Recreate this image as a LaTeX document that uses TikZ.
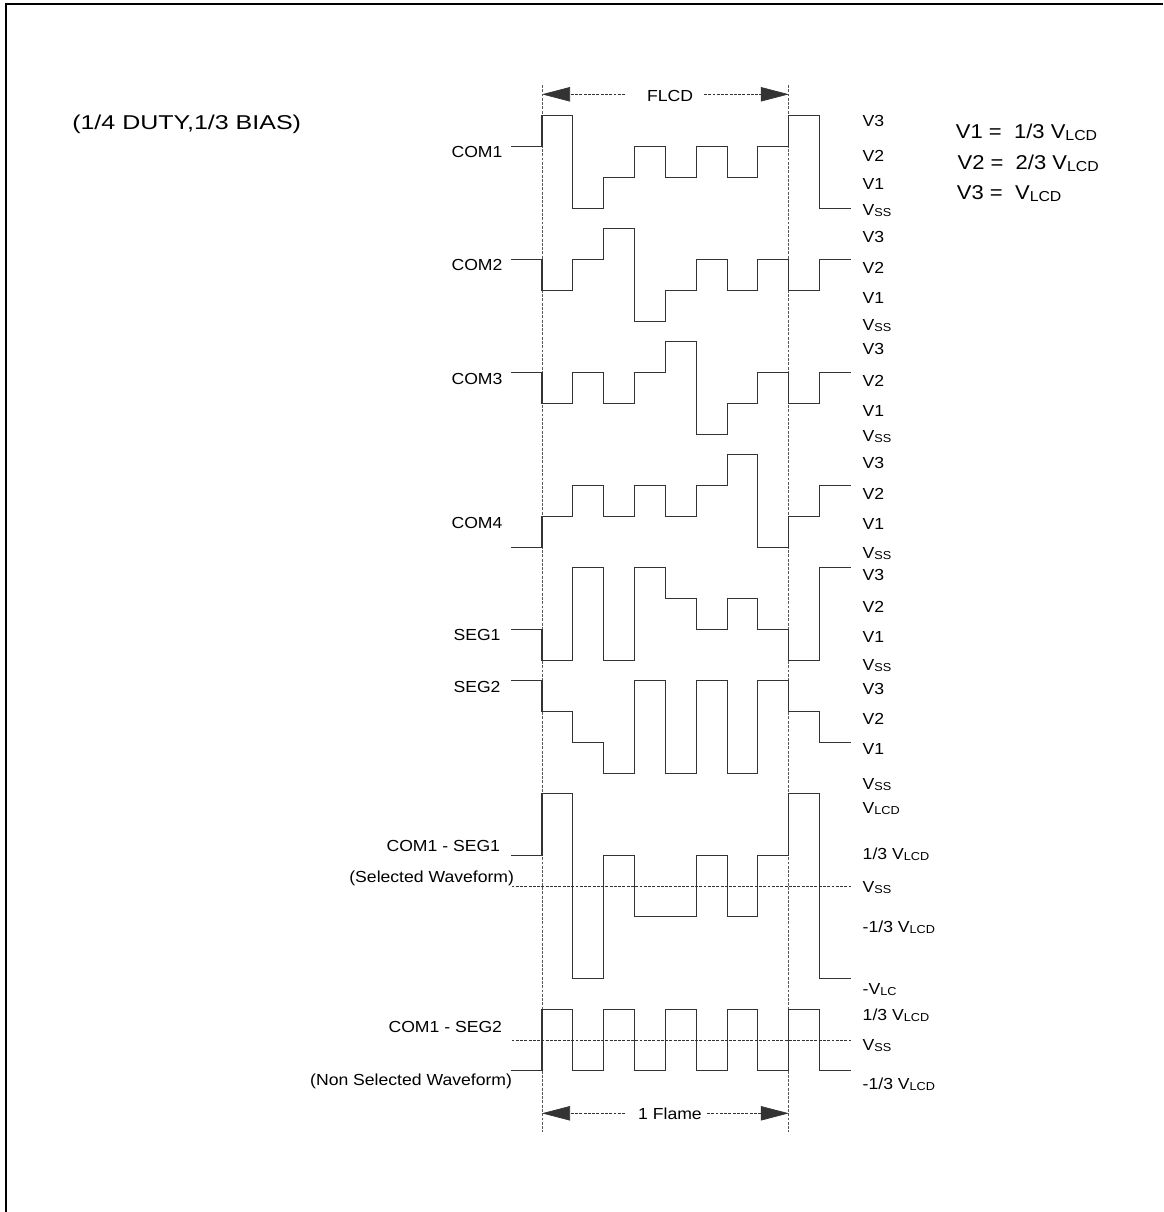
\documentclass[tikz,border=0pt]{standalone}
\usepackage{fontspec}
\usepackage{graphicx}
\setmainfont[FakeStretch=1.1]{Liberation Sans}
\newfontfamily\titlefont[FakeStretch=1.25]{Liberation Sans}
\usetikzlibrary{arrows.meta}
\newcommand{\sbs}[1]{\raisebox{-0.08em}{\scalebox{0.72}{#1}}}
% #1 = y of Vss, #2 = level before the frame, #3 = ten levels
\newcommand{\wavepath}[3]{%
  \draw[wavestyle] (511.15,{#1-(#2)*30.87})
    \foreach \l [count=\i from 0] in {#3} { -| ({542+30.85*\i},{#1-(\l)*30.87}) }
    -- ++(30.85,0);}
\begin{document}
\begin{tikzpicture}[x=0.75pt,y=-0.75pt,
  lbl/.style={font=\fontsize{12pt}{14pt}\selectfont, inner sep=0pt, outer sep=0pt},
  rl/.style={lbl, anchor=base west},
  ll/.style={lbl, anchor=base east},
  cl/.style={lbl, anchor=base},
  eqlbl/.style={font=\fontsize{15pt}{18pt}\selectfont, inner sep=0pt, anchor=base west},
  wavestyle/.style={draw=black!80, line width=0.8pt, line join=miter},
  guideline/.style={draw=black!65, line width=0.5pt, dash pattern=on 2.2pt off 1pt},
  dimarrow/.style={draw=black!80, line width=0.5pt, dash pattern=on 2.2pt off 1pt,
     -{Triangle[length=21pt,width=10.8pt]}}]
\useasboundingbox (0,0) rectangle (1163,1212);
% frame
\draw[line width=1.5pt, line join=miter] (5.7,1212) -- (5.7,3.7) -- (1163,3.7);

% title and equations
\node[font=\titlefont\fontsize{15pt}{18pt}\selectfont, inner sep=0pt, anchor=base west] (title) at (72,130) {(1/4 DUTY,1/3 BIAS)};
\node[eqlbl] (eq1) at (955.7,139) {V1 =\ \ 1/3 V\sbs{LCD}};
\node[eqlbl] (eq2) at (957.3,170) {V2 =\ \ 2/3 V\sbs{LCD}};
\node[eqlbl] (eq3) at (956.7,200) {V3 =\ \ V\sbs{LCD}};

% frame guides
\coordinate (gLt) at (542,85);   \coordinate (gLb) at (542,1132);
\coordinate (gRt) at (788.8,85); \coordinate (gRb) at (788.8,1132);
\draw[guideline] (gLt) -- (gLb);
\draw[guideline] (gRt) -- (gRb);

% FLCD dimension
\coordinate (fL) at (542,94.3);  \coordinate (fR) at (788.8,94.3);
\coordinate (fLi) at (625,94.3); \coordinate (fRi) at (704,94.3);
\node[cl] (flcd) at (670,101.7) {FLCD};
\draw[dimarrow] (fLi) -- (fL);
\draw[dimarrow] (fRi) -- (fR);

% 1 Flame dimension
\coordinate (mL) at (542,1113.3);  \coordinate (mR) at (788.8,1113.3);
\coordinate (mLi) at (625,1113.3); \coordinate (mRi) at (707,1113.3);
\node[cl] (flame) at (670,1119.3) {1 Flame};
\draw[dimarrow] (mLi) -- (mL);
\draw[dimarrow] (mRi) -- (mR);

% Vss reference lines of the difference waveforms
\coordinate (s1a) at (511.5,886); \coordinate (s1b) at (851,886);
\coordinate (s2a) at (511.5,1040); \coordinate (s2b) at (851,1040);
\draw[guideline, draw=black!80] (s1a) -- (s1b);
\draw[guideline, draw=black!80] (s2a) -- (s2b);

% waveforms
\wavepath{208.3}{2}{3,0,1,2,1,2,1,2,3,0}
\wavepath{321.3}{2}{1,2,3,0,1,2,1,2,1,2}
\wavepath{434.3}{2}{1,2,1,2,3,0,1,2,1,2}
\wavepath{547.3}{0}{1,2,1,2,1,2,3,0,1,2}
\wavepath{660.3}{1}{0,3,0,3,2,1,2,1,0,3}
\wavepath{773.3}{3}{2,1,0,3,0,3,0,3,2,1}
\wavepath{886}{1}{3,-3,1,-1,-1,1,-1,1,3,-3}
\wavepath{1040}{-1}{1,-1,1,-1,1,-1,1,-1,1,-1}

% left labels
\node[cl] (nCOM1) at (477,157.7) {COM1};
\node[cl] (nCOM2) at (477,270.7) {COM2};
\node[cl] (nCOM3) at (477,384) {COM3};
\node[cl] (nCOM4) at (477,528) {COM4};
\node[cl] (nSEG1) at (477,640.5) {SEG1};
\node[cl] (nSEG2) at (477,692) {SEG2};
\node[ll] (nCS1) at (500,851) {COM1 - SEG1};
\node[ll] (nCS1b) at (514,882) {(Selected Waveform)};
\node[ll] (nCS2) at (502,1032.3) {COM1 - SEG2};
\node[ll] (nCS2b) at (512,1085) {(Non Selected Waveform)};

% right labels
\node[rl] (r1a) at (862.7,126.7) {V3};
\node[rl] (r1b) at (862.7,161.5) {V2};
\node[rl] (r1c) at (862.7,190) {V1};
\node[rl] (r1d) at (862.7,215.5) {V\sbs{SS}};
\node[rl] (r2a) at (862.7,243) {V3};
\node[rl] (r2b) at (862.7,274) {V2};
\node[rl] (r2c) at (862.7,304) {V1};
\node[rl] (r2d) at (862.7,330) {V\sbs{SS}};
\node[rl] (r3a) at (862.7,354) {V3};
\node[rl] (r3b) at (862.7,386) {V2};
\node[rl] (r3c) at (862.7,416) {V1};
\node[rl] (r3d) at (862.7,441) {V\sbs{SS}};
\node[rl] (r4a) at (862.7,468) {V3};
\node[rl] (r4b) at (862.7,499) {V2};
\node[rl] (r4c) at (862.7,529) {V1};
\node[rl] (r4d) at (862.7,558) {V\sbs{SS}};
\node[rl] (r5a) at (862.7,580) {V3};
\node[rl] (r5b) at (862.7,612) {V2};
\node[rl] (r5c) at (862.7,642) {V1};
\node[rl] (r5d) at (862.7,670) {V\sbs{SS}};
\node[rl] (r6a) at (862.7,694) {V3};
\node[rl] (r6b) at (862.7,724) {V2};
\node[rl] (r6c) at (862.7,754) {V1};
\node[rl] (r6d) at (862.7,789) {V\sbs{SS}};
\node[rl] (r7a) at (862.7,813.3) {V\sbs{LCD}};
\node[rl] (r7b) at (862.7,859.3) {1/3 V\sbs{LCD}};
\node[rl] (r7c) at (862.7,892.7) {V\sbs{SS}};
\node[rl] (r7d) at (862.7,932.3) {-1/3 V\sbs{LCD}};
\node[rl] (r7e) at (862.7,994) {-V\sbs{LC}};
\node[rl] (r8a) at (862.7,1020.7) {1/3 V\sbs{LCD}};
\node[rl] (r8b) at (862.7,1050) {V\sbs{SS}};
\node[rl] (r8c) at (862.7,1089) {-1/3 V\sbs{LCD}};
\end{tikzpicture}
\end{document}
